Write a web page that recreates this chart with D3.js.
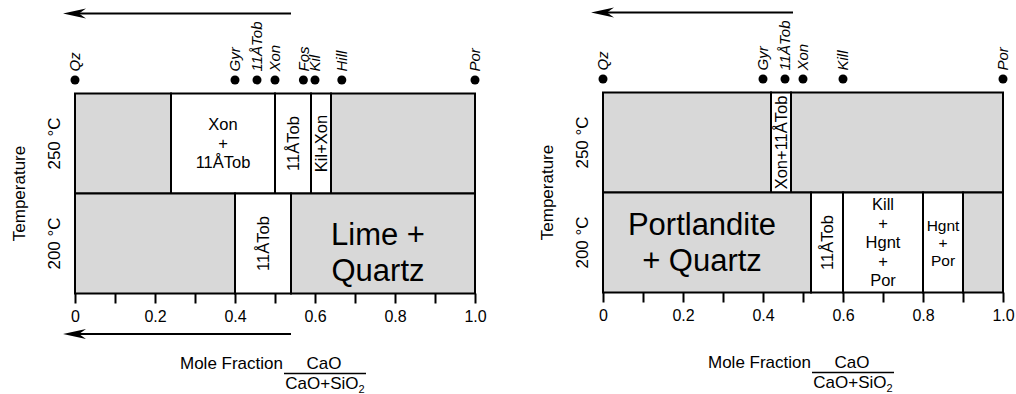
<!DOCTYPE html>
<html>
<head>
<meta charset="utf-8">
<script src="https://cdn.jsdelivr.net/npm/d3@7"></script>
<style>
  html, body { margin: 0; padding: 0; background: #fff; }
  svg { display: block; font-family: "Liberation Sans", Arial, Helvetica, sans-serif; }
</style>
</head>
<body>
<svg id="chart" width="1016" height="394"></svg>
<script>
// Composition axis: mole fraction CaO/(CaO+SiO2)
const fractionTicks = [0, 0.1, 0.2, 0.3, 0.4, 0.5, 0.6, 0.7, 0.8, 0.9, 1.0];
const fractionTickLabels = ["0", "", "0.2", "", "0.4", "", "0.6", "", "0.8", "", "1.0"];
const temperatures = ["250 °C", "200 °C"];

// Left diagram: reference phases along the composition line
const phasesA = ["Qz", "Gyr", "11ÅTob", "Xon", "Fos", "Kil", "Hill", "Por"];
const phaseFractionA = [0, 0.40, 0.455, 0.50, 0.571, 0.60, 0.667, 1.0];
// Left diagram: product fields (| separates text lines)
const breaksA250 = [0, 0.24, 0.50, 0.59, 0.64, 1.0];
const labelsA250 = ["", "Xon|+|11ÅTob", "11ÅTob", "Kil+Xon", ""];
const shadedA250 = [true, false, false, false, true];
const breaksA200 = [0, 0.40, 0.54, 1.0];
const labelsA200 = ["", "11ÅTob", "Lime +|Quartz"];
const shadedA200 = [true, false, true];
const arrowA = [0.54, -0.03];

// Right diagram
const phasesB = ["Qz", "Gyr", "11ÅTob", "Xon", "Kill", "Por"];
const phaseFractionB = [0, 0.40, 0.455, 0.50, 0.60, 1.0];
const breaksB250 = [0, 0.42, 0.47, 1.0];
const labelsB250 = ["", "Xon+11ÅTob", ""];
const shadedB250 = [true, false, true];
const breaksB200 = [0, 0.52, 0.60, 0.80, 0.90, 1.0];
const labelsB200 = ["Portlandite|+ Quartz", "11ÅTob", "Kill|+|Hgnt|+|Por", "Hgnt|+|Por", ""];
const shadedB200 = [true, false, false, false, true];
const arrowB = [0.475, -0.03];

// Styling
const SHADE = "#d8d8d8";
const W = 400, H = 200;
const labelTweaks = {
  "Lime +|Quartz": { dx: -5, dy: 8 },
  "Portlandite|+ Quartz": { dx: -5, dy: -1 },
  "Hgnt|+|Por": { gap: 17.5, fs: 15.5 }
};

const svg = d3.select("#chart");

function drawArrow(g, xTail, xTip, yy) {
  g.append("line")
    .attr("x1", xTail).attr("x2", xTip + 14)
    .attr("y1", yy).attr("y2", yy)
    .attr("stroke", "#000").attr("stroke-width", 2);
  g.append("path")
    .attr("d", `M${xTip},${yy} L${xTip + 23},${yy - 5} L${xTip + 16},${yy} L${xTip + 23},${yy + 5} Z`)
    .attr("fill", "#000");
}

function drawPanel(p) {
  const g = svg.append("g");
  const x = d3.scaleLinear().domain([0, 1]).range([p.x0, p.x0 + W]);
  const y = d3.scaleBand().domain(temperatures).range([p.top, p.top + H]);

  // Field cells
  p.rows.forEach(row => {
    const cells = row.labels.map((label, i) => ({
      a: row.breaks[i], b: row.breaks[i + 1], label, shaded: row.shaded[i]
    }));
    const y0 = y(row.t), bh = y.bandwidth(), yc = y0 + bh / 2;
    g.selectAll(null).data(cells).enter().append("rect")
      .attr("x", d => x(d.a)).attr("y", y0)
      .attr("width", d => x(d.b) - x(d.a)).attr("height", bh)
      .attr("fill", d => d.shaded ? SHADE : "#fff")
      .attr("stroke", "#000").attr("stroke-width", 2);

    cells.filter(d => d.label).forEach(d => {
      const lines = d.label.split("|");
      const tw = labelTweaks[d.label] || {};
      const xc = (x(d.a) + x(d.b)) / 2 + (tw.dx || 0);
      const ycc = yc + (tw.dy || 0);
      if (lines.length === 1) {
        g.append("text")
          .attr("transform", `translate(${xc},${ycc}) rotate(-90)`)
          .attr("text-anchor", "middle").attr("dy", "0.36em")
          .attr("font-size", 16.5).text(lines[0]);
      } else {
        const big = d.shaded;
        const fs = tw.fs || (big ? 31 : 16.5);
        const gap = tw.gap || (big ? 36 : 19);
        lines.forEach((ln, i) => {
          g.append("text")
            .attr("x", xc)
            .attr("y", ycc + (i - (lines.length - 1) / 2) * gap)
            .attr("dy", "0.36em")
            .attr("text-anchor", "middle")
            .attr("font-size", fs).text(ln);
        });
      }
    });
  });

  // Bottom axis
  const axis = g.append("g")
    .attr("transform", `translate(0,${p.top + H})`)
    .call(d3.axisBottom(x).tickValues(fractionTicks).tickSize(10).tickPadding(7)
      .tickFormat((d, i) => fractionTickLabels[i]));
  axis.select(".domain").remove();
  axis.selectAll(".tick line").attr("stroke", "#000").attr("stroke-width", 2);
  axis.selectAll(".tick text").attr("fill", "#000").attr("font-size", 16)
    .attr("font-family", "Liberation Sans, Arial, sans-serif");

  // Reference phase markers
  const marks = p.phases.map((n, i) => ({ n, f: p.fractions[i] }));
  g.selectAll(null).data(marks).enter().append("circle")
    .attr("cx", d => x(d.f)).attr("cy", p.top - 13.5).attr("r", 4.5).attr("fill", "#000");
  g.selectAll(null).data(marks).enter().append("text")
    .attr("transform", d => `translate(${x(d.f)},${p.top - 22}) rotate(-90)`)
    .attr("dy", "0.36em").attr("font-size", 15).attr("font-style", "italic")
    .text(d => d.n);

  // Temperature labels
  temperatures.forEach(t => {
    g.append("text")
      .attr("transform", `translate(${p.x0 - 21},${y(t) + y.bandwidth() / 2}) rotate(-90)`)
      .attr("text-anchor", "middle").attr("dy", "0.36em")
      .attr("font-size", 17).text(t);
  });
  g.append("text")
    .attr("transform", `translate(${p.x0 - 56},${p.top + H / 2}) rotate(-90)`)
    .attr("text-anchor", "middle").attr("dy", "0.36em")
    .attr("font-size", 17).text("Temperature");

  // Composition axis title with fraction
  const fy = p.top + 275;
  g.append("text").attr("x", p.x0 + 105).attr("y", fy).attr("font-size", 17).text("Mole Fraction");
  g.append("text").attr("x", p.x0 + 249).attr("y", fy).attr("text-anchor", "middle")
    .attr("font-size", 17).text("CaO");
  g.append("line").attr("x1", p.x0 + 209).attr("x2", p.x0 + 291)
    .attr("y1", fy + 5).attr("y2", fy + 5).attr("stroke", "#000").attr("stroke-width", 1.5);
  const den = g.append("text").attr("x", p.x0 + 250).attr("y", fy + 20)
    .attr("text-anchor", "middle").attr("font-size", 17);
  den.append("tspan").text("CaO+SiO");
  den.append("tspan").attr("font-size", 11).attr("dy", 4).text("2");

  // Direction arrows
  p.arrowYs.forEach(ay => drawArrow(g, x(p.arrow[0]), x(p.arrow[1]), ay));
}

drawPanel({
  x0: 75, top: 93.5,
  phases: phasesA, fractions: phaseFractionA,
  rows: [
    { t: temperatures[0], breaks: breaksA250, labels: labelsA250, shaded: shadedA250 },
    { t: temperatures[1], breaks: breaksA200, labels: labelsA200, shaded: shadedA200 }
  ],
  arrow: arrowA, arrowYs: [13.5, 334]
});

drawPanel({
  x0: 603, top: 92.5,
  phases: phasesB, fractions: phaseFractionB,
  rows: [
    { t: temperatures[0], breaks: breaksB250, labels: labelsB250, shaded: shadedB250 },
    { t: temperatures[1], breaks: breaksB200, labels: labelsB200, shaded: shadedB200 }
  ],
  arrow: arrowB, arrowYs: [12.5]
});
</script>
</body>
</html>
